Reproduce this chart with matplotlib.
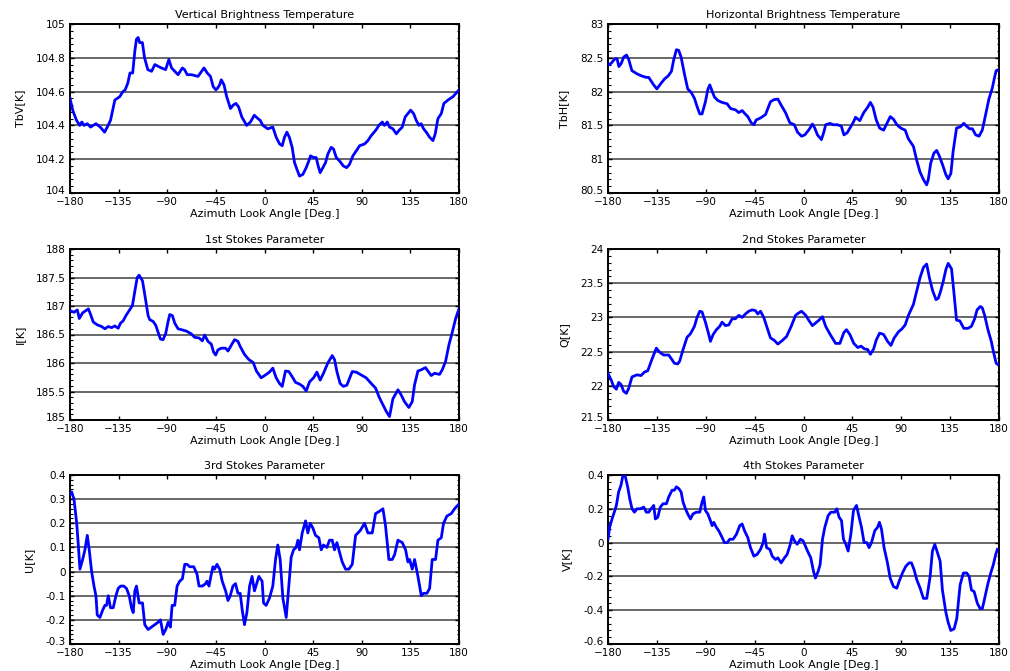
import matplotlib
matplotlib.use("Agg")
import matplotlib.pyplot as plt
import matplotlib.transforms as mtransforms
from matplotlib.ticker import MultipleLocator, AutoMinorLocator

# ---- Vertical brightness temperature ----
az_tbv = [-180, -177.5, -174, -171, -169, -167, -164, -161, -156, -152, -148, -145.5,
          -142.5, -138.5, -134, -131, -129, -126.5, -124.5, -122, -120, -118.5, -117,
          -115.5, -113, -111, -108, -104.5, -101.5, -98.5, -95.5, -91.5, -88.5, -86, -83,
          -80, -76, -74, -71.5, -67.5, -61.5, -56, -53, -50, -47.5, -45, -43.5, -41.5, -40,
          -37.5, -35, -31.5, -29, -26.5, -24, -21, -16.5, -13, -9.5, -6, -4, -1.5, 3, 7.7,
          10.8, 14, 16.4, 18.5, 20.7, 23, 25.6, 27.8, 30, 32.4, 35.5, 38.6, 41, 42.6, 45.4,
          47.8, 49.7, 51.5, 54, 56.5, 58.6, 61.7, 63.9, 66.4, 69.4, 73, 76, 78.7, 81.8, 85,
          88, 92.6, 95.7, 98.8, 102.8, 105.9, 109, 111, 113.6, 115.7, 118.8, 122, 124.4,
          127.5, 130.2, 132.7, 135.2, 138, 140.4, 143, 145, 147.2, 149.7, 152.8, 155.9, 158,
          160.5, 163.6, 166, 169.8, 174.4, 180]
tbv = [104.56, 104.49, 104.43, 104.40, 104.42, 104.40, 104.41, 104.39, 104.41, 104.39,
       104.36, 104.39, 104.43, 104.55, 104.57, 104.60, 104.61, 104.65, 104.71, 104.71,
       104.84, 104.91, 104.92, 104.89, 104.89, 104.80, 104.73, 104.72, 104.76, 104.75,
       104.74, 104.73, 104.79, 104.74, 104.72, 104.70, 104.74, 104.73, 104.70, 104.70,
       104.69, 104.74, 104.71, 104.69, 104.63, 104.61, 104.62, 104.64, 104.67, 104.64,
       104.57, 104.50, 104.52, 104.53, 104.51, 104.45, 104.40, 104.42, 104.46, 104.44,
       104.43, 104.40, 104.38, 104.39, 104.33, 104.29, 104.28, 104.33, 104.36, 104.33,
       104.27, 104.18, 104.14, 104.10, 104.11, 104.15, 104.19, 104.22, 104.21, 104.21,
       104.16, 104.12, 104.15, 104.18, 104.23, 104.27, 104.26, 104.21, 104.19, 104.16,
       104.15, 104.17, 104.22, 104.25, 104.28, 104.29, 104.31, 104.34, 104.37, 104.40,
       104.42, 104.40, 104.42, 104.39, 104.38, 104.35, 104.37, 104.39, 104.45, 104.47,
       104.49, 104.47, 104.43, 104.40, 104.41, 104.38, 104.36, 104.33, 104.31, 104.35,
       104.44, 104.47, 104.53, 104.55, 104.57, 104.61]

# ---- Horizontal brightness temperature ----
az_tbh = [-180, -177, -174, -171.7, -170, -167.7, -165.6, -163, -161, -158, -153, -148.7,
          -144.7, -142.5, -138, -135, -131.8, -127.8, -124.7, -121.6, -119.5, -117, -114.9,
          -112.7, -109.6, -106.6, -103.5, -100.4, -98, -95.5, -93.4, -90.3, -88.1, -86.3,
          -84, -82, -79, -75, -70.3, -67.2, -62.6, -59.6, -56.5, -54.3, -51.3, -48.2, -45.7,
          -43.6, -39.6, -35, -30.4, -27.3, -23.6, -20.6, -16.6, -12.6, -8.5, -5.5, -1.8,
          1.2, 5.2, 8.2, 10.4, 12.8, 16.5, 18.9, 20.4, 24.4, 27.4, 31.1, 34.8, 37.2, 40.2,
          42.7, 45.7, 47.9, 51.8, 55.5, 59.1, 61.6, 64, 67, 70.1, 73.8, 76.8, 79.9, 82.9,
          86, 89.6, 93.6, 96.6, 101.2, 104.3, 107.3, 110.4, 113.4, 114.9, 117.1, 120.1,
          122.6, 125, 128, 131.1, 133.2, 135.7, 137.8, 140.9, 144.5, 147.6, 150, 153,
          155.5, 158.5, 161.6, 164.6, 167.7, 170.7, 173.8, 175.9, 177.4, 179]
tbh = [82.39, 82.42, 82.48, 82.49, 82.37, 82.42, 82.51, 82.54, 82.48, 82.31, 82.26, 82.23,
       82.21, 82.21, 82.10, 82.04, 82.11, 82.19, 82.23, 82.30, 82.47, 82.62, 82.61, 82.51,
       82.26, 82.04, 81.99, 81.90, 81.78, 81.67, 81.67, 81.85, 82.03, 82.10, 82.00, 81.92,
       81.87, 81.84, 81.82, 81.75, 81.73, 81.69, 81.72, 81.68, 81.63, 81.54, 81.51, 81.58,
       81.61, 81.66, 81.85, 81.88, 81.89, 81.80, 81.69, 81.54, 81.51, 81.40, 81.34, 81.36,
       81.44, 81.52, 81.46, 81.36, 81.29, 81.41, 81.51, 81.53, 81.51, 81.51, 81.49, 81.36,
       81.39, 81.46, 81.54, 81.62, 81.57, 81.69, 81.77, 81.84, 81.77, 81.58, 81.46, 81.43,
       81.53, 81.63, 81.59, 81.51, 81.46, 81.43, 81.30, 81.19, 80.98, 80.81, 80.70, 80.62,
       80.70, 80.94, 81.09, 81.13, 81.05, 80.92, 80.77, 80.71, 80.79, 81.12, 81.46, 81.48,
       81.53, 81.49, 81.45, 81.45, 81.36, 81.34, 81.43, 81.66, 81.89, 82.05, 82.21, 82.31,
       82.32]

# ---- 1st Stokes parameter ----
az_i = [-180, -176.3, -173.2, -171.4, -168.3, -163, -160.9, -158.5, -154.8, -150.8, -147.7,
        -144.6, -141.5, -138.5, -135.4, -133.2, -130.8, -128.3, -125.2, -122.2, -120,
        -117.8, -116, -112.9, -110.8, -107.7, -106.2, -103.1, -100.6, -98.5, -96.3, -93.8,
        -91.4, -89.2, -87.7, -85.2, -83.1, -80, -76, -72.3, -67.7, -64.6, -60.6, -57.5,
        -55.4, -52.3, -49.2, -47.1, -45.2, -43.1, -40, -36, -33.8, -30.8, -27.7, -24.6,
        -22.5, -18.5, -14.5, -10.5, -7.5, -3.1, 0.9, 4.6, 7.7, 10.8, 13.9, 16.4, 19.4,
        22.5, 25.6, 28.7, 32.4, 35.5, 38.6, 41.7, 45.4, 48.5, 51.5, 54.6, 58.6, 62.7, 64.8,
        67, 70, 73, 76.2, 78.7, 81.2, 84.9, 89.5, 94.1, 98.8, 102.8, 105.9, 109, 112.7,
        115.7, 118.8, 123.5, 126.5, 129.6, 133.6, 136.7, 138.9, 142, 145, 149, 151.2,
        154.3, 157.4, 162, 164.5, 167.6, 170.7, 173.8, 176.9, 180]
stokes_i = [186.92, 186.89, 186.93, 186.78, 186.88, 186.95, 186.85, 186.72, 186.67, 186.64,
            186.60, 186.64, 186.62, 186.65, 186.61, 186.70, 186.74, 186.83, 186.92, 187.01,
            187.26, 187.50, 187.54, 187.44, 187.20, 186.83, 186.76, 186.73, 186.66, 186.54,
            186.42, 186.41, 186.52, 186.73, 186.85, 186.83, 186.70, 186.60, 186.58, 186.56,
            186.51, 186.45, 186.44, 186.39, 186.49, 186.38, 186.33, 186.19, 186.14, 186.23,
            186.26, 186.26, 186.21, 186.31, 186.41, 186.38, 186.29, 186.15, 186.06, 186.01,
            185.86, 185.74, 185.79, 185.84, 185.91, 185.74, 185.64, 185.59, 185.86, 185.85,
            185.76, 185.66, 185.63, 185.59, 185.51, 185.67, 185.74, 185.84, 185.70, 185.82,
            186.00, 186.13, 186.06, 185.85, 185.64, 185.59, 185.61, 185.73, 185.85, 185.84,
            185.79, 185.74, 185.64, 185.56, 185.41, 185.29, 185.15, 185.06, 185.37, 185.53,
            185.44, 185.32, 185.22, 185.32, 185.62, 185.86, 185.88, 185.92, 185.86, 185.78,
            185.82, 185.80, 185.88, 186.03, 186.32, 186.54, 186.78, 186.95]

# ---- 2nd Stokes parameter ----
az_q = [-180, -177.2, -174.8, -172.3, -170.2, -168, -165.6, -163.1, -161, -157.9, -153.3,
        -149.6, -146.5, -143.4, -139.5, -135.5, -132.4, -128.7, -124.1, -121, -118.9,
        -115.8, -114, -110.9, -107.2, -104.1, -100.4, -98, -95.5, -93.4, -90.3, -87.2,
        -85.7, -83.2, -80.2, -77.1, -75, -71.9, -68.8, -65.7, -62.7, -59.6, -56.5, -53.5,
        -50.4, -47.3, -44.3, -42.1, -39.6, -36.6, -33.5, -30.4, -27.3, -23.6, -19.7,
        -15.6, -11.3, -7.3, -4.9, -1.8, 2.1, 5.2, 8.2, 11.3, 14.3, 17.4, 20.4, 23.5, 26.5,
        29.6, 33.5, 37.2, 39.6, 42.7, 46.3, 50, 53, 56.1, 59.1, 61.6, 64.6, 67, 70.1, 73.8,
        77.4, 80.5, 83.5, 87.5, 90.5, 93.6, 96.6, 101.2, 104.3, 107.3, 110.4, 113.4, 115.9,
        118.9, 122, 124.1, 126.2, 128.7, 131.1, 133.2, 136.3, 138.4, 140.9, 143.9, 147.6,
        151.5, 154.6, 157.6, 159.8, 162.8, 164.6, 166.8, 169.8, 172.9, 175, 177.4, 179]
stokes_q = [22.18, 22.09, 21.99, 21.95, 22.05, 22.02, 21.92, 21.89, 21.96, 22.13, 22.16,
            22.15, 22.20, 22.22, 22.39, 22.55, 22.49, 22.45, 22.45, 22.38, 22.33, 22.32,
            22.36, 22.53, 22.71, 22.76, 22.87, 23.00, 23.09, 23.08, 22.93, 22.75, 22.65,
            22.75, 22.82, 22.87, 22.93, 22.88, 22.89, 22.98, 22.98, 23.03, 23.00, 23.05,
            23.09, 23.11, 23.10, 23.05, 23.09, 23.00, 22.85, 22.70, 22.67, 22.61, 22.66,
            22.72, 22.87, 23.03, 23.06, 23.09, 23.03, 22.95, 22.88, 22.92, 22.96, 23.01,
            22.87, 22.78, 22.70, 22.62, 22.62, 22.78, 22.82, 22.75, 22.62, 22.56, 22.58,
            22.54, 22.53, 22.46, 22.54, 22.67, 22.77, 22.75, 22.65, 22.59, 22.70, 22.79,
            22.83, 22.89, 23.03, 23.19, 23.39, 23.58, 23.73, 23.78, 23.58, 23.39, 23.26,
            23.28, 23.38, 23.53, 23.70, 23.79, 23.71, 23.38, 22.96, 22.95, 22.84, 22.84,
            22.87, 22.98, 23.11, 23.16, 23.14, 23.03, 22.82, 22.65, 22.49, 22.33, 22.31]

# ---- 3rd Stokes parameter ----
az_u = [-180, -178.5, -176.3, -173.8, -172.3, -170.8, -168.3, -166.2, -164, -162.2, -160,
        -157.8, -156, -154.8, -152.3, -149.8, -147.7, -146.2, -144.6, -142.5, -140, -137.5,
        -135.4, -133.2, -130.2, -127.7, -125.2, -123.1, -121.5, -120, -118.5, -116, -112.9,
        -110.8, -107.7, -104.6, -101.5, -98.5, -96.3, -93.8, -91.4, -89.2, -87.1, -85.5,
        -83.1, -80.9, -78.5, -76, -73.8, -71.7, -69.2, -65.5, -62.5, -60.6, -57.5, -54.5,
        -53.2, -51.4, -49.2, -47.7, -46.2, -44, -41.5, -39.1, -36, -33.8, -31.7, -29.2,
        -26.8, -24.6, -22.5, -20.6, -18.5, -16.3, -13.8, -11.5, -9.3, -5.2, -2.2, -0.9,
        1.5, 4.6, 7.7, 10.2, 12.3, 14.5, 17, 20.1, 22.5, 24.7, 26.9, 29.3, 30.9, 32.4,
        34.9, 38, 40.1, 42.3, 44.8, 47.2, 50.3, 52.5, 54.6, 57.7, 60.2, 62.7, 64.8, 67,
        69.4, 71.9, 75, 78.1, 81.2, 84.3, 88.6, 92.6, 95.7, 99.7, 102.8, 106.5, 109.6,
        112, 115.1, 118.2, 120.4, 123.5, 127.5, 130.6, 132.7, 134.3, 136.7, 138.9, 142,
        145.1, 147.2, 150.3, 152.8, 155.2, 158.3, 160.5, 163.6, 165.7, 168.8, 172.8, 175.9,
        180]
stokes_u = [0.32, 0.33, 0.30, 0.20, 0.11, 0.01, 0.05, 0.09, 0.15, 0.09, 0.00, -0.06, -0.10,
            -0.18, -0.19, -0.16, -0.14, -0.14, -0.10, -0.15, -0.15, -0.10, -0.07, -0.06,
            -0.06, -0.07, -0.10, -0.15, -0.17, -0.08, -0.06, -0.13, -0.13, -0.22, -0.24,
            -0.23, -0.22, -0.21, -0.20, -0.26, -0.24, -0.21, -0.23, -0.14, -0.14, -0.06,
            -0.04, -0.03, 0.03, 0.03, 0.02, 0.02, -0.01, -0.06, -0.06, -0.05, -0.04, -0.06,
            -0.01, 0.02, 0.01, 0.03, 0.01, -0.04, -0.08, -0.12, -0.10, -0.06, -0.05, -0.09,
            -0.09, -0.16, -0.22, -0.17, -0.06, -0.02, -0.08, -0.02, -0.04, -0.13, -0.14,
            -0.11, -0.06, 0.05, 0.11, 0.05, -0.11, -0.19, -0.06, 0.06, 0.09, 0.10, 0.13,
            0.09, 0.16, 0.21, 0.16, 0.20, 0.18, 0.15, 0.14, 0.09, 0.11, 0.10, 0.13, 0.13,
            0.09, 0.12, 0.08, 0.04, 0.01, 0.01, 0.03, 0.15, 0.17, 0.20, 0.16, 0.16, 0.24,
            0.25, 0.26, 0.19, 0.05, 0.05, 0.07, 0.13, 0.12, 0.09, 0.04, 0.05, 0.01, 0.05,
            -0.02, -0.10, -0.09, -0.09, -0.07, 0.05, 0.05, 0.13, 0.14, 0.20, 0.23, 0.24,
            0.26, 0.28]

# ---- 4th Stokes parameter ----
az_v = [-180, -178.5, -176.3, -174.2, -172.3, -170.2, -168, -166.2, -164, -161.9, -160,
        -157.9, -155.7, -153.3, -150.2, -147.1, -144.7, -142.5, -140.4, -137.9, -136.4,
        -134.2, -131.8, -129.3, -126.2, -124.1, -121, -118.9, -117, -114.9, -112.7, -110.9,
        -108.7, -106.6, -104.1, -101.7, -98.6, -95.5, -93.4, -91.8, -90.3, -88.1, -85.7,
        -84.1, -82.6, -80.2, -78, -74.9, -72.8, -70.3, -67.9, -64.8, -61.7, -58.7, -56.5,
        -54.3, -51.3, -48.8, -45.7, -42.7, -39.6, -37.1, -35.9, -34, -31, -28.8, -25.8,
        -23.6, -20.6, -17.5, -15.1, -12.6, -10.4, -8.3, -5.8, -2.8, -0.3, 3.7, 6.7, 9.2,
        11, 13.5, 15.3, 17.5, 19.6, 22.7, 25.2, 27.6, 28.8, 30.7, 32.8, 35, 36.8, 39, 41.1,
        43.6, 46, 48.8, 51.2, 53.4, 55.8, 58.3, 60.4, 62.6, 65.6, 68.1, 69.9, 71.8, 74.2,
        77.3, 79.8, 82.8, 85.9, 88, 91.1, 94.2, 97.2, 99.4, 101.8, 104.3, 107.4, 110.4,
        113.5, 116.6, 118.7, 120.9, 123.3, 125.8, 127.9, 131, 133.1, 135.6, 138.7, 141.1,
        144.2, 147.2, 150.3, 152.5, 154.6, 157.1, 160.1, 162.6, 164.7, 167.8, 169.9, 172.4,
        174.8, 177, 178.5]
stokes_v = [0.02, 0.09, 0.14, 0.18, 0.22, 0.30, 0.34, 0.40, 0.39, 0.33, 0.26, 0.20, 0.18,
            0.20, 0.20, 0.21, 0.18, 0.18, 0.20, 0.22, 0.14, 0.15, 0.21, 0.23, 0.23, 0.27,
            0.31, 0.31, 0.33, 0.32, 0.30, 0.24, 0.20, 0.17, 0.14, 0.17, 0.18, 0.18, 0.24,
            0.27, 0.19, 0.17, 0.13, 0.10, 0.12, 0.09, 0.07, 0.03, 0.00, 0.00, 0.02, 0.02,
            0.05, 0.10, 0.11, 0.07, 0.03, -0.03, -0.08, -0.07, -0.04, 0.00, 0.05, -0.03,
            -0.04, -0.08, -0.10, -0.09, -0.12, -0.09, -0.07, -0.02, 0.04, 0.01, -0.01, 0.02,
            0.01, -0.05, -0.09, -0.17, -0.21, -0.17, -0.13, 0.02, 0.09, 0.16, 0.18, 0.18,
            0.18, 0.20, 0.15, 0.13, 0.02, -0.01, -0.05, 0.05, 0.19, 0.22, 0.15, 0.09, 0.00,
            0.00, -0.03, 0.00, 0.07, 0.09, 0.12, 0.08, -0.03, -0.12, -0.21, -0.26, -0.27,
            -0.23, -0.18, -0.14, -0.12, -0.12, -0.16, -0.22, -0.27, -0.33, -0.33, -0.20,
            -0.05, -0.01, -0.06, -0.11, -0.28, -0.41, -0.47, -0.52, -0.51, -0.45, -0.25,
            -0.18, -0.18, -0.20, -0.28, -0.29, -0.36, -0.39, -0.39, -0.30, -0.24, -0.18,
            -0.13, -0.07, -0.04]

x_ticks = [-180, -135, -90, -45, 0, 45, 90, 135, 180]

panels = [
    # (azimuth, values, title, ylabel, ymin, ymax, ystep)
    (az_tbv, tbv, "Vertical Brightness Temperature", "TbV[K]", 104.0, 105.0, 0.2),
    (az_tbh, tbh, "Horizontal Brightness Temperature", "TbH[K]", 80.5, 83.0, 0.5),
    (az_i, stokes_i, "1st Stokes Parameter", "I[K]", 185.0, 188.0, 0.5),
    (az_q, stokes_q, "2nd Stokes Parameter", "Q[K]", 21.5, 24.0, 0.5),
    (az_u, stokes_u, "3rd Stokes Parameter", "U[K]", -0.3, 0.4, 0.1),
    (az_v, stokes_v, "4th Stokes Parameter", "V[K]", -0.6, 0.4, 0.2),
]

plt.rcParams["font.family"] = ["DejaVu Sans"]
fig = plt.figure(figsize=(10.10, 6.71), dpi=100)

W, H = 1010.0, 671.0
col_left = [70, 608]
col_width = [389, 391]
row_top = [24, 249, 475]
row_height = [169, 171, 169]

# lift the lowest y label a touch so it clears the first x label
lift = mtransforms.ScaledTranslation(0, 2.5 / 72.0, fig.dpi_scale_trans)

for k, (az, vals, title, ylab, ymin, ymax, ystep) in enumerate(panels):
    r, c = divmod(k, 2)
    rect = [col_left[c] / W, 1 - (row_top[r] + row_height[r]) / H,
            col_width[c] / W, row_height[r] / H]
    ax = fig.add_axes(rect)
    ax.plot(az, vals, color="#0000ff", lw=2.0, solid_joinstyle="round", zorder=3)
    ax.set_xlim(-180, 180)
    ax.set_ylim(ymin, ymax)
    ax.set_xticks(x_ticks)
    ax.yaxis.set_major_locator(MultipleLocator(ystep))
    ax.yaxis.set_minor_locator(AutoMinorLocator(5))
    ax.yaxis.grid(True, which="major", color="#404040", lw=1.1)
    ax.set_axisbelow(True)
    for s in ax.spines.values():
        s.set_linewidth(1.4)
        s.set_color("black")
    ax.tick_params(axis="both", which="major", direction="in", length=3, width=1,
                   top=True, right=True, labelsize=7.5)
    ax.tick_params(axis="x", which="major", pad=3)
    ax.tick_params(axis="y", which="major", pad=3)
    ax.tick_params(axis="y", which="minor", direction="in", length=1.8, width=0.8,
                   left=True, right=True)
    yt = []
    for t in ax.get_yticks():
        if ymin - 1e-9 <= t <= ymax + 1e-9:
            yt.append(t)
    ax.set_yticks(yt)
    ax.set_yticklabels([("%g" % round(t, 3)) for t in yt])
    lowest = ax.get_yticklabels()[0]
    lowest.set_transform(lowest.get_transform() + lift)
    ax.set_title(title, fontsize=8, pad=4)
    ax.set_xlabel("Azimuth Look Angle [Deg.]", fontsize=8, labelpad=1)
    ax.set_ylabel(ylab, fontsize=8, labelpad=8)

fig.savefig("out.png", dpi=100)
